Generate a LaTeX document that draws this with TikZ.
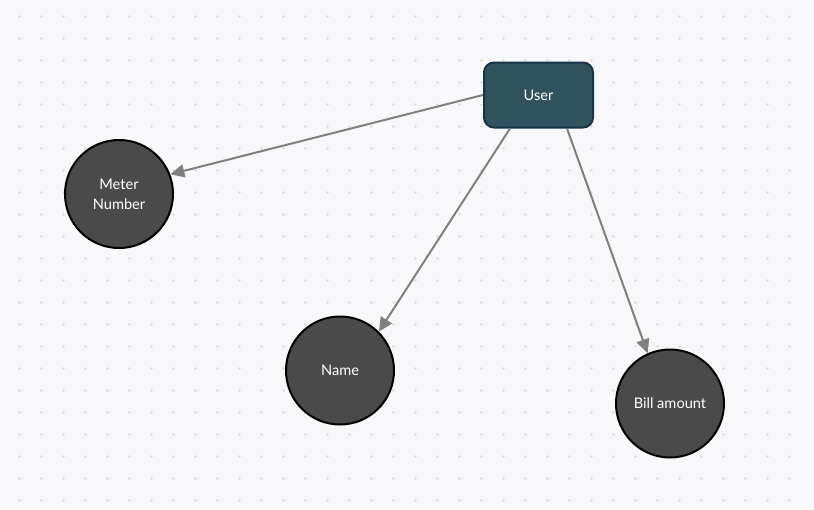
\documentclass[tikz,border=0pt]{standalone}
\usepackage{fontspec}
\setmainfont{Lato}
\usetikzlibrary{arrows.meta,calc}
\definecolor{bg}{HTML}{F8F8FA}
\definecolor{dotc}{HTML}{DCDCE0}
\definecolor{userfill}{HTML}{30525F}
\definecolor{userdraw}{HTML}{163447}
\definecolor{circfill}{HTML}{4A4A4A}
\definecolor{arrowc}{HTML}{808080}
\tikzset{
  entity/.style={draw=userdraw, fill=userfill, line width=2pt, rounded corners=10pt,
    minimum width=109pt, minimum height=65pt, text=white, font=\fontsize{14.6}{18}\selectfont},
  attr/.style={circle, draw=black, fill=circfill, line width=2pt, minimum size=108pt,
    inner sep=0pt, text=white, align=center, font=\fontsize{14.6}{20}\selectfont},
  link/.style={draw=arrowc, line width=2pt, -{Triangle[length=14pt,width=13pt]}}
}
\begin{document}
\begin{tikzpicture}[x=1pt,y=-1pt]
\fill[bg] (0,0) rectangle (814,509);
\useasboundingbox (0,0) rectangle (814,509);
\foreach \i in {0,...,35} {
  \foreach \j in {0,...,22} {
    \fill[dotc] (19.5+22*\i,16.5+22*\j) circle (1.3pt);
  }
}
\node[entity] (user) at (538.5,95) {User};
\node[attr] (meter) at (119,194) {Meter\\Number};
\node[attr] (name) at (340,370.5) {Name};
\node[attr] (bill) at (670,403.5) {Bill amount};
\coordinate (uleft) at ($(user.south west)+(27,0)$);
\coordinate (uright) at ($(user.south west)+(84,0)$);
\draw[link] (user.west) -- (meter.21);
\draw[link] (uleft) -- (name.45);
\draw[link] (uright) -- (bill.114);
\end{tikzpicture}
\end{document}
